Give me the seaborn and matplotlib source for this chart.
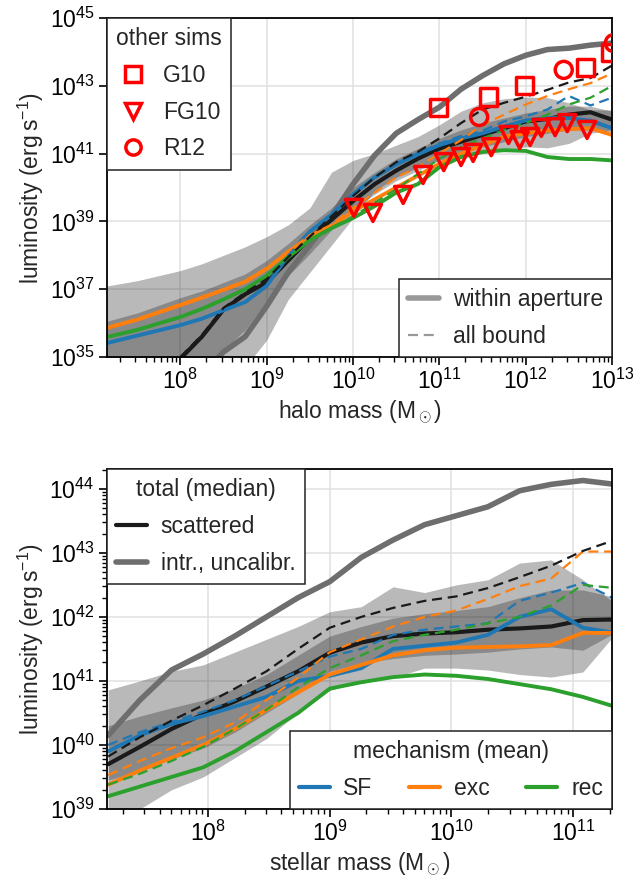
import numpy as np
import matplotlib
matplotlib.use("Agg")
import matplotlib.pyplot as plt
import matplotlib.ticker as mticker
from matplotlib.lines import Line2D
import seaborn as sns

# ---- halo mass panel (log10 values) ----
lm_halo = [7.0, 7.5, 8.0, 8.25, 8.5, 8.75, 9.0, 9.25, 9.5, 9.75, 10.0, 10.25,
           10.5, 10.75, 11.0, 11.25, 11.5, 11.75, 12.0, 12.25, 12.5, 12.75, 13.0]
nan = np.nan
sf_halo = [35.32, 35.63, 35.94, 36.13, 36.38, 36.62, 37.1, 38.0, 38.7, 39.2, 39.8, 40.3,
           40.68, 40.98, 41.25, 41.45, 41.6, 41.8, 41.98, 42.05, 42.05, 41.97, 41.75]
exc_halo = [35.75, 36.1, 36.53, 36.75, 36.98, 37.22, 37.6, 38.1, 38.55, 38.85, 39.3, 39.65,
            40.0, 40.35, 40.7, 41.0, 41.25, 41.5, 41.6, 41.68, 41.72, 41.75, 41.55]
rec_halo = [35.5, 35.8, 36.18, 36.42, 36.7, 37.0, 37.4, 37.95, 38.45, 38.8, 39.1, 39.45,
            39.85, 40.1, 40.6, 40.9, 41.05, 41.1, 41.08, 40.9, 40.84, 40.84, 40.8]
sf_all_halo = [35.32, 35.63, 35.94, 36.13, 36.38, 36.62, 37.1, 38.0, 38.7, 39.2, 39.8, 40.3,
               40.72, 41.02, 41.3, 41.52, 41.68, 41.95, 42.1, 42.3, 42.7, 42.42, 42.65]
exc_all_halo = [35.78, 36.13, 36.56, 36.78, 37.01, 37.25, 37.63, 38.13, 38.6, 38.9, 39.4, 39.85,
                40.3, 40.6, 41.0, 41.4, 41.85, 42.15, 42.45, 42.7, 42.9, 43.08, 43.37]
rec_all_halo = [35.5, 35.8, 36.18, 36.42, 36.7, 37.0, 37.4, 37.95, 38.45, 38.82, 39.15, 39.55,
                39.95, 40.4, 40.85, 41.2, 41.45, 41.7, 41.9, 42.15, 42.45, 42.65, 43.0]
tot_halo = [nan, nan, 34.95, 35.6, 36.4, 36.85, 37.2, 37.85, 38.5, 39.05, 39.6, 40.1,
            40.5, 40.85, 41.15, 41.35, 41.55, 41.75, 41.95, 42.02, 42.15, 42.22, 42.0]
tot_all_halo = [nan, nan, 35.0, 35.65, 36.45, 36.9, 37.3, 37.95, 38.55, 39.15, 39.75, 40.3,
                40.75, 41.05, 41.45, 41.9, 42.3, 42.5, 42.68, 42.88, 43.1, 43.23, 43.6]
intr_halo = [nan, nan, nan, 34.5, 35.15, 35.6, 36.5, 37.5, 38.3, 39.15, 40.1, 40.95,
             41.6, 42.0, 42.37, 42.9, 43.3, 43.65, 43.9, 44.07, 44.11, 44.2, 44.26]
lo95_halo = [33.0, 33.3, 33.6, 33.9, 34.3, 34.7, 35.5, 36.7, 37.5, 38.3, 39.1, 39.9,
             40.3, 40.6, 40.8, 40.9, 41.0, 41.1, 41.2, 41.17, 41.3, 41.6, 41.7]
hi95_halo = [37.03, 37.25, 37.55, 37.75, 38.0, 38.25, 38.55, 38.9, 39.4, 40.45, 40.8, 41.0,
             41.25, 41.5, 41.85, 42.25, 42.5, 42.62, 42.67, 42.65, 42.5, 42.29, 42.29]
lo68_halo = [33.5, 33.9, 34.3, 34.7, 35.2, 35.8, 36.65, 37.4, 38.05, 38.75, 39.35, 39.8,
             40.2, 40.5, 40.8, 41.0, 41.2, 41.35, 41.5, 41.6, 41.7, 41.7, 41.6]
hi68_halo = [35.95, 36.3, 36.75, 36.95, 37.2, 37.45, 37.85, 38.35, 38.9, 39.4, 40.0, 40.45,
             40.85, 41.15, 41.45, 41.7, 41.9, 42.05, 42.2, 42.3, 42.4, 42.4, 42.25]

# other simulations
g10_mass = [10.99, 11.57, 11.99, 12.69, 12.98]
g10_lum = [42.35, 42.67, 43.02, 43.55, 43.97]
fg10_mass = [10.01, 10.23, 10.58, 10.81, 11.05, 11.25, 11.39, 11.60, 11.80, 11.93,
             12.05, 12.18, 12.34, 12.48, 12.71]
fg10_lum = [39.40, 39.25, 39.78, 40.37, 40.75, 40.90, 41.02, 41.19, 41.55, 41.40,
            41.49, 41.76, 41.78, 41.90, 41.70]
r12_mass = [11.46, 12.44, 13.02]
r12_lum = [42.08, 43.47, 44.26]

# ---- stellar mass panel ----
lm_star = [7.18, 7.44, 7.70, 7.96, 8.22, 8.48, 8.74, 9.00, 9.26, 9.52, 9.78, 10.04,
           10.30, 10.56, 10.82, 11.08, 11.34]
tot_star = [39.7, 39.97, 40.25, 40.48, 40.68, 40.91, 41.15, 41.44, 41.6, 41.7, 41.74, 41.76,
            41.8, 41.82, 41.85, 41.95, 41.96]
tot_all_star = [39.82, 40.12, 40.38, 40.62, 40.88, 41.15, 41.5, 41.83, 42.0, 42.14, 42.25, 42.32,
                42.45, 42.62, 42.8, 43.03, 43.2]
intr_star = [40.15, 40.7, 41.17, 41.42, 41.7, 42.0, 42.3, 42.55, 42.93, 43.2, 43.44, 43.58,
             43.72, 43.97, 44.07, 44.13, 44.07]
sf_star = [39.9, 40.15, 40.33, 40.45, 40.6, 40.75, 41.0, 41.08, 41.2, 41.5, 41.55, 41.6,
           41.72, 42.0, 42.12, 41.83, 41.75]
sf_all_star = [40.0, 40.2, 40.36, 40.52, 40.7, 40.92, 41.15, 41.38, 41.5, 41.72, 41.8, 41.85,
               41.9, 42.25, 42.38, 42.53, 42.28]
exc_star = [39.38, 39.6, 39.8, 40.0, 40.25, 40.55, 40.82, 41.1, 41.25, 41.4, 41.48, 41.52,
            41.53, 41.54, 41.56, 41.75, 41.75]
exc_all_star = [39.53, 39.75, 39.95, 40.12, 40.35, 40.7, 41.05, 41.45, 41.65, 41.85, 42.0, 42.1,
                42.28, 42.48, 42.6, 43.02, 43.02]
rec_star = [39.2, 39.35, 39.5, 39.65, 39.9, 40.2, 40.5, 40.88, 40.98, 41.06, 41.1, 41.08,
            41.03, 40.95, 40.87, 40.75, 40.6]
rec_all_star = [39.38, 39.55, 39.75, 39.97, 40.25, 40.55, 40.9, 41.2, 41.4, 41.62, 41.72, 41.8,
                41.9, 42.0, 42.18, 42.5, 42.45]
lo95_star = [38.6, 39.0, 39.3, 39.5, 39.8, 40.1, 40.5, 40.85, 41.0, 41.05, 41.2, 41.2,
             41.17, 41.1, 41.06, 41.14, 41.72]
hi95_star = [40.86, 41.0, 41.15, 41.25, 41.45, 41.65, 41.85, 42.08, 42.16, 42.47, 42.38, 42.5,
             42.58, 42.84, 42.89, 42.58, 42.22]
lo68_star = [39.45, 39.6, 39.78, 39.95, 40.2, 40.5, 40.8, 41.15, 41.28, 41.35, 41.4, 41.42,
             41.45, 41.5, 41.53, 41.48, 41.75]
hi68_star = [40.3, 40.45, 40.58, 40.7, 40.88, 41.1, 41.4, 41.7, 41.85, 41.98, 42.05, 42.1,
             42.16, 42.3, 42.42, 42.42, 42.31]

mech_colors = ['#1f77b4', '#ff7f0e', '#2ca02c']
intr_color = '#6e6e6e'

sns.set_theme(style='ticks', rc={
    'axes.grid': True, 'grid.color': '#e0e0e0', 'grid.linewidth': 1.1,
    'axes.edgecolor': 'black', 'axes.linewidth': 1.3,
    'xtick.major.size': 6, 'ytick.major.size': 6,
    'xtick.minor.size': 3.5, 'ytick.minor.size': 3.5,
    'xtick.major.width': 1.2, 'ytick.major.width': 1.2,
    'xtick.minor.width': 1.0, 'ytick.minor.width': 1.0,
    'xtick.major.pad': 2.5, 'ytick.major.pad': 3,
    'xtick.color': 'black', 'ytick.color': 'black',
    'font.size': 16.5, 'axes.labelsize': 16.5, 'axes.labelpad': 3,
    'xtick.labelsize': 16.5, 'ytick.labelsize': 16.5,
    'legend.fontsize': 16.5, 'legend.title_fontsize': 16.5,
    'lines.dashed_pattern': [4.5, 2.6],
})
plt.rcParams['font.family'] = ['Liberation Sans', 'DejaVu Sans']
plt.rcParams['mathtext.fontset'] = 'custom'
plt.rcParams['mathtext.rm'] = 'Liberation Sans'
plt.rcParams['mathtext.it'] = 'Liberation Sans:italic'
plt.rcParams['mathtext.bf'] = 'Liberation Sans:bold'


def L(v):
    return 10.0 ** np.asarray(v, dtype=float)


def draw_panel(ax, lm, lo95, hi95, lo68, hi68, tot, tot_all, intr, mech, mech_all):
    x = L(lm)
    ax.fill_between(x, L(lo95), L(hi95), color='k', alpha=0.3, lw=0)
    ax.fill_between(x, L(lo68), L(hi68), color='k', alpha=0.3, lw=0)
    sns.lineplot(x=x, y=L(intr), color=intr_color, lw=4, ax=ax,
                 estimator=None, sort=False)
    sns.lineplot(x=x, y=L(tot), color='k', lw=3, ax=ax, estimator=None, sort=False)
    for vals, c in zip(mech, mech_colors):
        sns.lineplot(x=x, y=L(vals), color=c, lw=2.8, ax=ax,
                     estimator=None, sort=False)
    for vals, c in zip(mech_all, mech_colors):
        sns.lineplot(x=x, y=L(vals), color=c, lw=1.6, ls='--', ax=ax,
                     estimator=None, sort=False)
    sns.lineplot(x=x, y=L(tot_all), color='k', lw=1.6, ls='--', ax=ax,
                 estimator=None, sort=False)
    ax.set_xscale('log')
    ax.set_yscale('log')
    ax.set_axisbelow(True)
    ax.tick_params(which='both', top=False, right=False, direction='out')
    ax.set_ylabel('luminosity (erg\u2009s$^{-1}$)')


def style_legend(leg):
    leg.get_frame().set_edgecolor('#222222')
    leg.get_frame().set_linewidth(1.1)
    leg.get_frame().set_alpha(1)


leg_kw = dict(fancybox=False, borderaxespad=0, handlelength=1.35,
              handletextpad=0.6, framealpha=1, labelspacing=0.6)

fig = plt.figure(figsize=(6.33, 8.83), dpi=100)
ax1 = fig.add_axes([0.169, 0.5957, 0.798, 0.3839])
ax2 = fig.add_axes([0.169, 0.0838, 0.798, 0.3851])

# top: halo mass
draw_panel(ax1, lm_halo, lo95_halo, hi95_halo, lo68_halo, hi68_halo, tot_halo,
           tot_all_halo, intr_halo, [sf_halo, exc_halo, rec_halo],
           [sf_all_halo, exc_all_halo, rec_all_halo])
mk = dict(facecolor='none', edgecolor='red', linewidth=2.5, s=150, zorder=5)
sns.scatterplot(x=L(g10_mass), y=L(g10_lum), marker='s', ax=ax1, **mk)
sns.scatterplot(x=L(fg10_mass), y=L(fg10_lum), marker='v', ax=ax1, **mk)
sns.scatterplot(x=L(r12_mass), y=L(r12_lum), marker='o', ax=ax1, **mk)
ax1.set_xlim(10 ** 7.15, 1e13)
ax1.set_ylim(1e35, 1e45)
ax1.yaxis.set_major_locator(mticker.FixedLocator([10.0 ** e for e in range(35, 46, 2)]))
ax1.yaxis.set_minor_locator(mticker.NullLocator())
ax1.set_xlabel(r'halo mass (M$_\odot$)')

mhand = [Line2D([], [], ls='none', marker=m, ms=11, mfc='none', mec='red', mew=2.5)
         for m in ['s', 'v', 'o']]
leg1 = ax1.legend(mhand, ['G10', 'FG10', 'R12'], title='other sims',
                  loc='upper left', **leg_kw)
style_legend(leg1)
ax1.add_artist(leg1)
leg2 = ax1.legend([Line2D([], [], color='#999999', lw=4),
                   Line2D([], [], color='#999999', lw=1.6, ls='--')],
                  ['within aperture', 'all bound'], loc='lower right', **leg_kw)
style_legend(leg2)

# bottom: stellar mass
draw_panel(ax2, lm_star, lo95_star, hi95_star, lo68_star, hi68_star, tot_star,
           tot_all_star, intr_star, [sf_star, exc_star, rec_star],
           [sf_all_star, exc_all_star, rec_all_star])
ax2.set_xlim(10 ** 7.17, 10 ** 11.32)
ax2.set_ylim(1e39, 10 ** 44.31)
ax2.yaxis.set_major_locator(mticker.LogLocator(base=10, numticks=20))
ax2.yaxis.set_minor_locator(mticker.LogLocator(base=10, subs=np.arange(2, 10), numticks=20))
ax2.yaxis.set_minor_formatter(mticker.NullFormatter())
ax2.set_xlabel(r'stellar mass (M$_\odot$)')

leg3 = ax2.legend([Line2D([], [], color='k', lw=3), Line2D([], [], color=intr_color, lw=4)],
                  ['scattered', 'intr., uncalibr.'], title='total (median)',
                  loc='upper left', **leg_kw)
style_legend(leg3)
ax2.add_artist(leg3)
leg4 = ax2.legend([Line2D([], [], color=c, lw=3) for c in mech_colors],
                  ['SF', 'exc', 'rec'], title='mechanism (mean)', ncol=3,
                  columnspacing=1.6, loc='lower right', **leg_kw)
style_legend(leg4)

for ax in (ax1, ax2):
    ax.yaxis.set_label_coords(-0.12, 0.5)

fig.savefig('out.png', dpi=100)
